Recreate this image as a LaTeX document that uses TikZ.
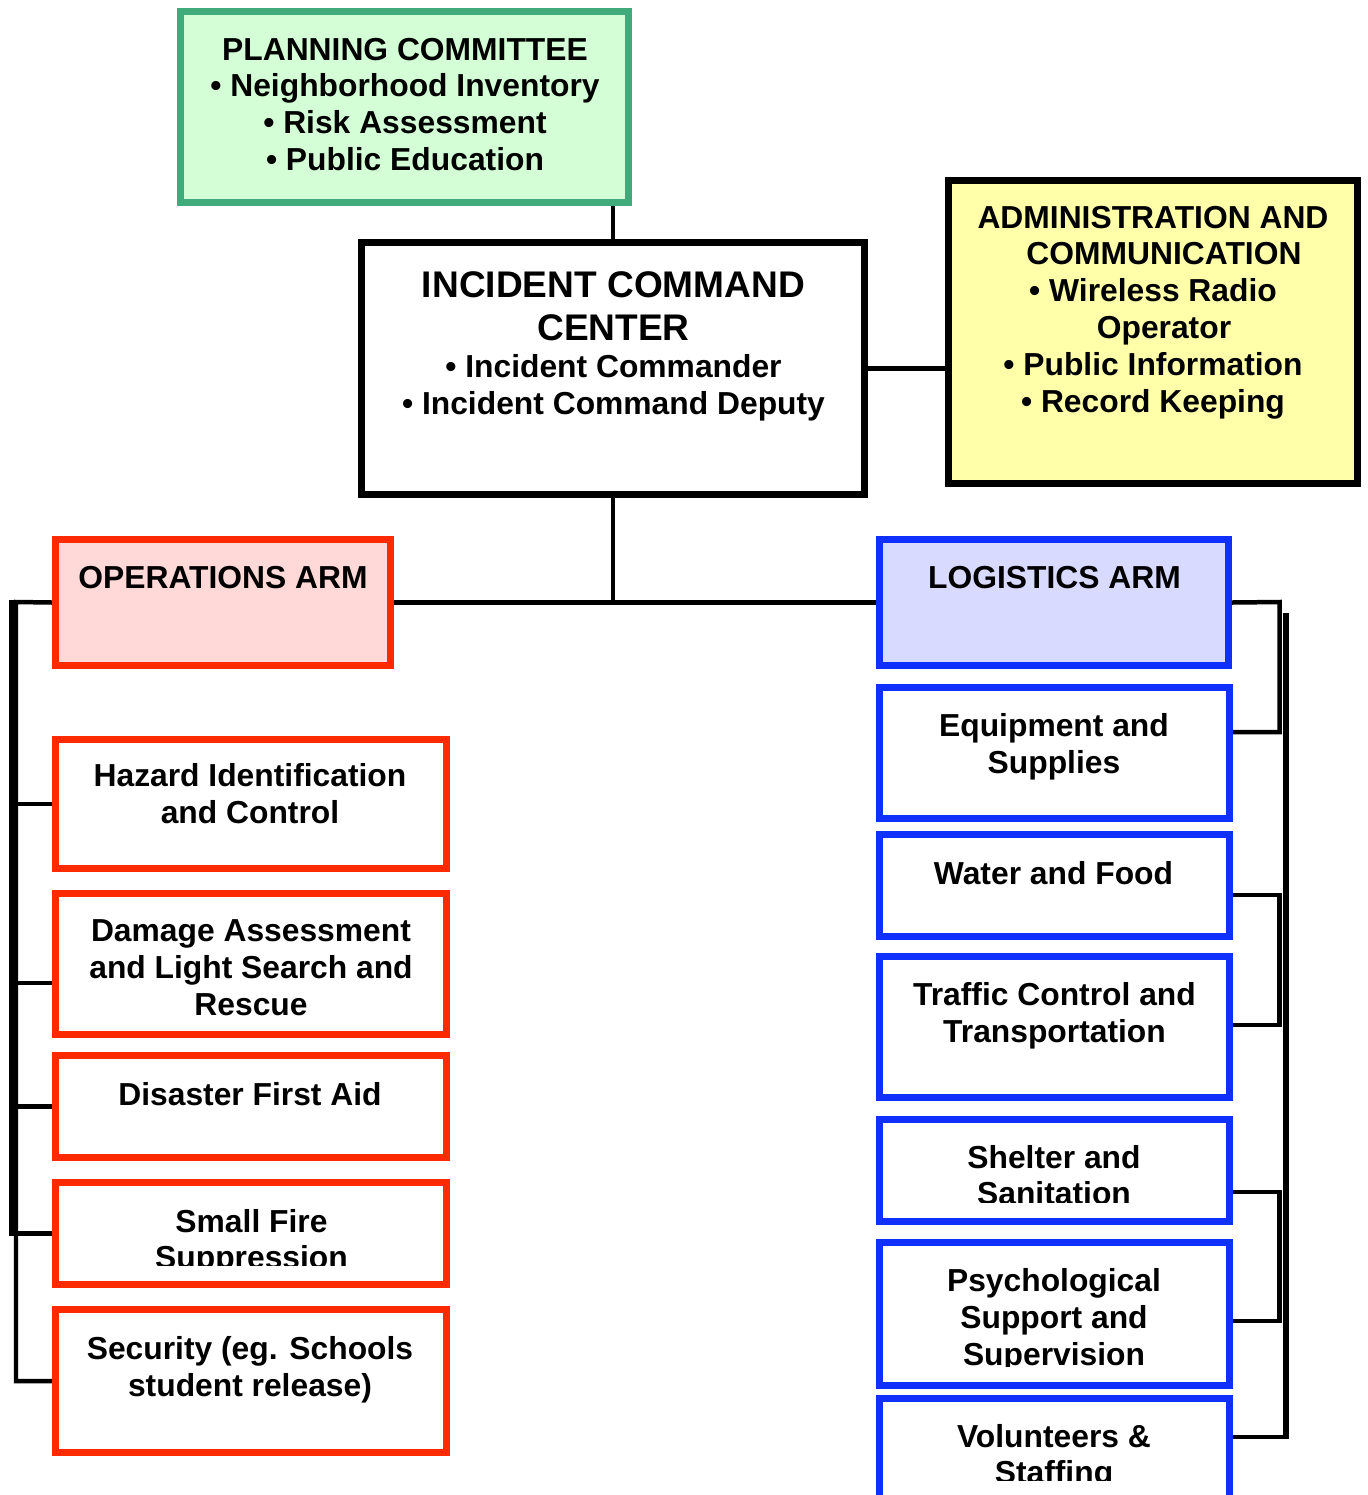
\documentclass[tikz,border=0pt]{standalone}
\usepackage{fontspec}
\setmainfont{Liberation Sans}
\usepackage{xcolor}
\usepackage{tikz}
\usetikzlibrary{backgrounds}

\definecolor{plangreen}{RGB}{64,170,122}
\definecolor{planfill}{RGB}{212,255,214}
\definecolor{adminfill}{RGB}{255,255,170}
\definecolor{opsred}{RGB}{255,42,0}
\definecolor{opsfill}{RGB}{255,216,216}
\definecolor{logblue}{RGB}{16,48,255}
\definecolor{logfill}{RGB}{216,218,255}

\begin{document}
\begin{tikzpicture}[x=0.02cm, y=-0.02cm, font=\bfseries\fontsize{18.1}{21}\selectfont,
  box/.style={draw, line width=0.14cm, inner sep=0pt},
  txt/.style={align=center, inner sep=0pt, anchor=north},
  conn/.style={line width=0.09cm},
  redbox/.style={box, draw=opsred, fill=white, minimum width=7.82cm},
  bluebox/.style={box, draw=logblue, fill=white, minimum width=7cm}]
  \useasboundingbox (0,0) rectangle (1367,1495);
  % top row
  \node[box, draw=plangreen, fill=planfill, minimum width=8.96cm, minimum height=3.82cm] (plan) at (404.5,107) {};
  \node[txt] (planT) at (405,37.5) {PLANNING COMMITTEE\\• Neighborhood Inventory\\• Risk Assessment\\• Public Education};
  \node[box, draw=black, fill=white, minimum width=10.06cm, minimum height=5.04cm] (icc) at (613,368.5) {};
  \node[txt] (iccT) at (613.5,271.6) {{\fontsize{21.1}{24.1}\selectfont INCIDENT COMMAND}\\[3.4pt]{\fontsize{21.1}{24.1}\selectfont CENTER}\\• Incident Commander\\• Incident Command Deputy};
  \node[box, draw=black, fill=adminfill, minimum width=8.18cm, minimum height=6.06cm] (admin) at (1153,332) {};
  \node[txt] (adminT) at (1153,205.5) {ADMINISTRATION AND\\\hspace*{12.5pt}COMMUNICATION\\• Wireless Radio\\\hspace*{12.5pt}Operator\\• Public Information\\• Record Keeping};
  % arms
  \node[box, draw=opsred, fill=opsfill, minimum width=6.7cm, minimum height=2.52cm] (ops) at (223,602.5) {};
  \node[txt] (opsT) at (223,565.5) {OPERATIONS ARM};
  \node[box, draw=logblue, fill=logfill, minimum width=6.98cm, minimum height=2.52cm] (log) at (1054,602.5) {};
  \node[txt] (logT) at (1054.5,565.5) {LOGISTICS ARM};
  % operations units
  \node[redbox, minimum height=2.58cm] (haz) at (251,804) {};
  \node[txt] (hazT) at (250,763.5) {Hazard Identification\\and Control};
  \node[redbox, minimum height=2.82cm] (dmg) at (251,964) {};
  \node[txt] (dmgT) at (251,919.5) {Damage Assessment\\and Light Search and\\Rescue};
  \node[redbox, minimum height=2.04cm] (aid) at (251,1106.5) {};
  \node[txt] (aidT) at (250,1082.5) {Disaster First Aid};
  \node[redbox, minimum height=2.04cm] (fire) at (251,1233.5) {};
  \begin{scope}
    \clip (58,1185) rectangle (444,1265);
    \node[txt] (fireT) at (251.5,1209.5) {Small Fire\\[-1pt]Suppression};
  \end{scope}
  \node[redbox, minimum height=2.86cm] (sec) at (251,1381) {};
  \node[txt] (secT) at (250,1336.5) {Security (eg. Schools\\student release)};
  % logistics units
  \node[bluebox, minimum height=2.62cm] (equip) at (1054.5,753) {};
  \node[txt] (equipT) at (1054,713.5) {Equipment and\\Supplies};
  \node[bluebox, minimum height=2.04cm] (water) at (1054.5,885.5) {};
  \node[txt] (waterT) at (1053.5,861.5) {Water and Food};
  \node[bluebox, minimum height=2.82cm] (traffic) at (1054.5,1027) {};
  \node[txt] (trafficT) at (1054.5,982.5) {Traffic Control and\\Transportation};
  \node[bluebox, minimum height=2.04cm] (shelter) at (1054.5,1170.5) {};
  \begin{scope}
    \clip (882,1122) rectangle (1227,1202);
    \node[txt] (shelterT) at (1054,1145.5) {Shelter and\\[-1pt]Sanitation};
  \end{scope}
  \node[bluebox, minimum height=2.86cm] (psych) at (1054.5,1314) {};
  \begin{scope}
    \clip (882,1245) rectangle (1227,1366);
    \node[txt] (psychT) at (1054,1268.5) {Psychological\\Support and\\Supervision};
  \end{scope}
  \node[bluebox, minimum height=2.63cm] (vol) at (1054.5,1464) {};
  \begin{scope}
    \clip (882,1401) rectangle (1227,1480);
    \node[txt] (volT) at (1054,1424.5) {Volunteers \&\\[-1pt]Staffing};
  \end{scope}
  % connectors
  \begin{scope}[on background layer]
    \draw[conn] (icc.north |- plan.south) -- (icc.north);
    \draw[conn] (icc.east) -- (icc.east -| admin.west);
    \draw[conn] (icc.south) -- (icc.south |- ops.east);
    \draw[conn] (ops.east) -- (log.west);
    % left bus
    \coordinate (lb) at (16,602);
    \fill (9,600) rectangle (18,1236);
    \draw[conn] (ops.west) -- (lb) -- (lb |- sec.west) -- (sec.west);
    \foreach \b in {haz,aid,fire}
      \draw[conn] (\b.west) -- (\b.west -| lb);
    \draw[conn] (dmg.west |- 0,983) -- (lb |- 0,983);
    % right bus
    \coordinate (rb) at (1279.5,602);
    \draw[line width=0.12cm] (1285.5,613) -- (1285.5,1439);
    \draw[conn] (log.east) -- (rb) |- (equip.east |- 0,732);
    \draw[conn] (water.east |- 0,895) -| (rb |- 0,1025) -- (traffic.east |- 0,1025);
    \draw[conn] (shelter.east |- 0,1192) -| (rb |- 0,1321) -- (psych.east |- 0,1321);
    \draw[conn] (vol.east |- 0,1437) -- (1288,1437);
  \end{scope}
\end{tikzpicture}
\end{document}
